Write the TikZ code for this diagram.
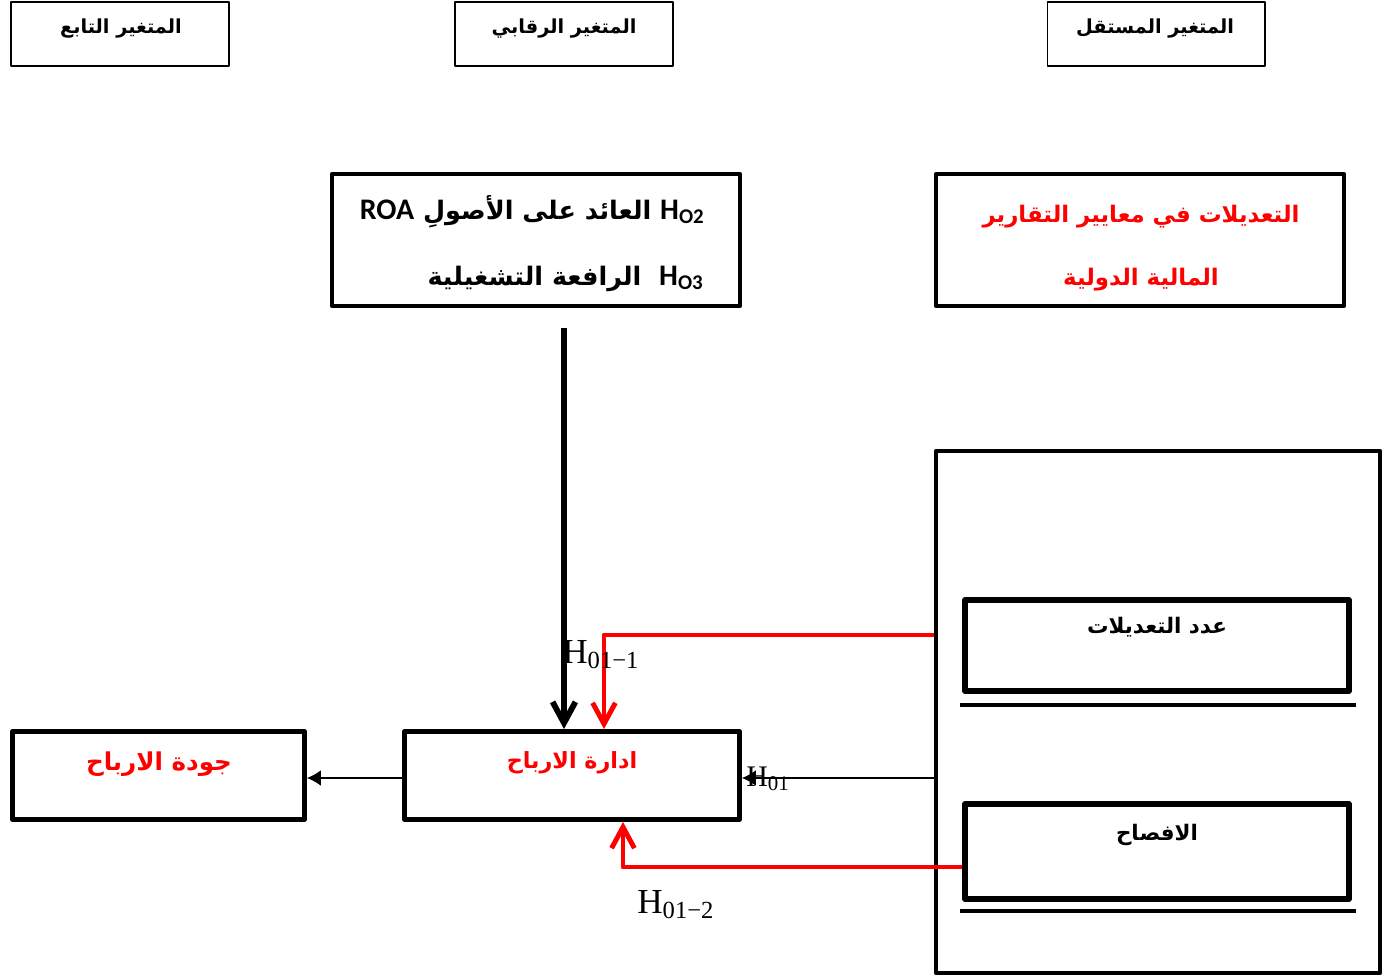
\documentclass[tikz,border=0pt]{standalone}
\usepackage{fontspec}
\usetikzlibrary{arrows.meta}
\TeXXeTstate=1
\setmainfont{Liberation Serif}
\newfontfamily\arabicfont[Script=Arabic]{DejaVu Sans}
\newfontfamily\latinfont{Carlito}
\definecolor{pured}{RGB}{255,0,0}
\begin{document}
\begin{tikzpicture}[x=0.02cm,y=-0.02cm,line join=round,
  hdr/.style={draw,line width=0.6pt,minimum width=4.36cm,minimum height=1.28cm,inner sep=0pt},
  box/.style={draw,line width=2.6pt,inner sep=0pt},
  ibox/.style={draw,line width=3.2pt,inner sep=0pt,minimum width=7.68cm},
  hdrtxt/.style={inner sep=0pt,font=\arabicfont\bfseries\fontsize{11}{13}\selectfont},
  redtxt/.style={inner sep=0pt,text=pured,font=\arabicfont\bfseries\fontsize{13}{15}\selectfont},
  midtxt/.style={inner sep=0pt,font=\arabicfont\bfseries\fontsize{12.2}{14}\selectfont},
  ctltxt/.style={inner sep=0pt,font=\arabicfont\bfseries\fontsize{14.5}{17}\selectfont},
  hlbl/.style={inner sep=0pt,font=\fontsize{20}{22}\selectfont},
  hlblsmall/.style={inner sep=0pt,font=\fontsize{17}{19}\selectfont},
  blackarr/.style={line width=3.3pt,-{Straight Barb[length=12pt,width=13pt]}},
  redarr/.style={draw=pured,line width=2.8pt,-{Straight Barb[length=12pt,width=13pt]}},
  thinarr/.style={line width=0.8pt,-{Latex[length=8pt,width=9pt]}},
  bar/.style={line width=2.2pt}
]
\useasboundingbox[fill=white] (0,0) rectangle (1387,977);

% header boxes
\node[hdr] (hdep) at (120,34) {};
\node[hdr] (hctl) at (564,34) {};
\node[hdr] (hind) at (1156,34) {};
\node[hdrtxt,anchor=base] (hdept) at (121,33) {\beginR المتغير التابع\endR};
\node[hdrtxt,anchor=base] (hctlt) at (564,33) {\beginR المتغير الرقابي\endR};
\node[hdrtxt,anchor=base] (hindt) at (1155,33) {\beginR المتغير المستقل\endR};

% control box
\node[box,minimum width=8.16cm,minimum height=2.64cm] (ctl) at (536,240) {};
\node[ctltxt,anchor=base east] (ctl1) at (705,219)
  {\beginR\beginL{\latinfont\bfseries\fontsize{17}{19}\selectfont H\textsubscript{O2}}\endL{} العائد على الأصولِ \beginL{\latinfont\bfseries\fontsize{17}{19}\selectfont ROA}\endL\endR};
\node[ctltxt,anchor=base east] (ctl2) at (704,285)
  {\beginR\beginL{\latinfont\bfseries\fontsize{17}{19}\selectfont H\textsubscript{O3}}\endL{}\ \ الرافعة التشغيلية\endR};

% independent variable box
\node[box,minimum width=8.16cm,minimum height=2.64cm] (ind) at (1140,240) {};
\node[redtxt,anchor=base] (ind1) at (1141,222) {\beginR التعديلات في معايير  التقارير\endR};
\node[redtxt,anchor=base] (ind2) at (1141,285) {\beginR المالية الدولية\endR};

% outer big box and its inner boxes
\node[box,minimum width=8.88cm,minimum height=10.44cm] (outer) at (1158,712) {};
\node[ibox,minimum height=1.82cm] (num) at (1157,645.5) {};
\node[midtxt,anchor=base] (numt) at (1157,633) {\beginR عدد التعديلات\endR};
\node[ibox,minimum height=1.9cm] (disc) at (1157,851.5) {};
\node[midtxt,anchor=base] (disct) at (1157,840) {\beginR الافصاح\endR};
\draw[bar] (960,705) -- (1356,705);
\draw[bar] (960,911) -- (1356,911);

% earnings management and earnings quality boxes
\node[box,line width=2.8pt,minimum width=6.7cm,minimum height=1.76cm] (idara) at (572,775.5) {};
\node[redtxt,anchor=base,font=\arabicfont\bfseries\fontsize{12.7}{15}\selectfont] (idarat) at (572,768) {\beginR ادارة الارباح\endR};
\node[box,line width=2.8pt,minimum width=5.84cm,minimum height=1.76cm] (jawda) at (158.5,775.5) {};
\node[redtxt,anchor=base,font=\arabicfont\bfseries\fontsize{14}{16}\selectfont] (jawdat) at (159,770) {\beginR جودة الارباح\endR};

% connectors
\coordinate (cstart) at (564,328);
\coordinate (ytop) at (0,635);
\coordinate (ybot) at (0,867);
\coordinate (ymid) at (0,778);
\draw[blackarr] (cstart) -- (cstart |- idara.north);
\draw[redarr] (outer.west |- ytop) -| ([xshift=0.64cm]idara.north);
\draw[redarr] (disc.west |- ybot) -| ([xshift=1.02cm]idara.south);
\draw[thinarr] (idara.west |- ymid) -- (jawda.east |- ymid);
\draw[thinarr] (outer.west |- ymid) -- (idara.east |- ymid);

% hypothesis labels
\node[hlbl,anchor=base west] (h011) at (562,663) {H\textsubscript{01−1}};
\node[hlblsmall,anchor=base west] (h01) at (746,786) {H\textsubscript{01}};
\node[hlbl,anchor=base west] (h012) at (637,913) {H\textsubscript{01−2}};
\end{tikzpicture}
\end{document}
